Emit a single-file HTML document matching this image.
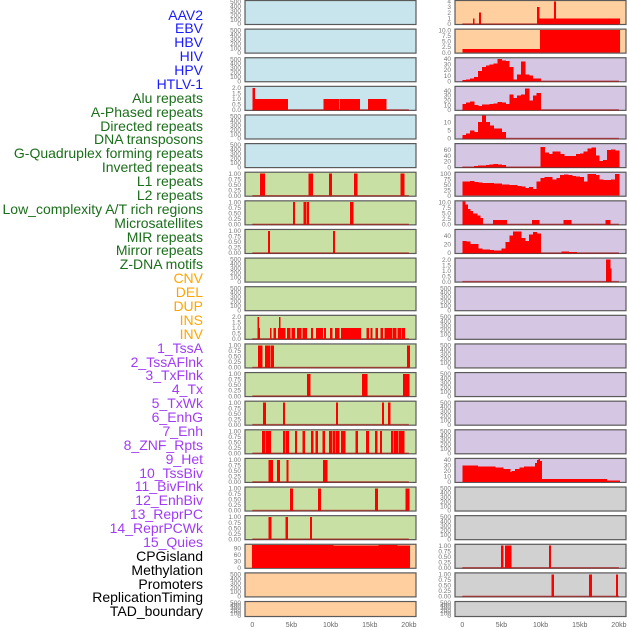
<!DOCTYPE html>
<html><head><meta charset="utf-8">
<style>
html,body{margin:0;padding:0;background:#fff;}
#wrap{position:relative;width:630px;height:630px;overflow:hidden;font-family:"Liberation Sans",sans-serif;}
.lab{position:absolute;right:427px;font-size:14px;line-height:14px;white-space:nowrap;}
svg text{font-family:"Liberation Sans",sans-serif;}
</style></head>
<body>
<div id="wrap">
<div id="labels"></div>
<svg id="chart" width="630" height="630"></svg>
</div>
<script>
// ---------- labels ----------
const trackLabels = ["AAV2","EBV","HBV","HIV","HPV","HTLV-1","Alu repeats","A-Phased repeats","Directed repeats","DNA transposons","G-Quadruplex forming repeats","Inverted repeats","L1 repeats","L2 repeats","Low_complexity A/T rich regions","Microsatellites","MIR repeats","Mirror repeats","Z-DNA motifs","CNV","DEL","DUP","INS","INV","1_TssA","2_TssAFlnk","3_TxFlnk","4_Tx","5_TxWk","6_EnhG","7_Enh","8_ZNF_Rpts","9_Het","10_TssBiv","11_BivFlnk","12_EnhBiv","13_ReprPC","14_ReprPCWk","15_Quies","CPGisland","Methylation","Promoters","ReplicationTiming","TAD_boundary"];
const labelGroups = [6,13,5,15,5];
const xTickValues = [0,5,10,15,20];
const xTickLabels = ["0","5kb","10kb","15kb","20kb"];

// ---------- data (segments: [startKb, endKb, value]; bins: 0.5kb each from 0) ----------
const leftAluSegs = [[0,0.3,2],[0.3,4.5,1],[9.1,11.1,1],[11.2,13.7,1],[14.8,17.1,1]];
const leftRow6Segs = [[1.0,1.6,1],[7.2,7.7,1],[9.8,10.1,1],[13.0,13.4,1],[18.9,19.4,1]];
const leftRow7Segs = [[5.2,5.4,1],[6.55,6.85,1],[7.0,7.2,1],[12.5,12.85,1]];
const leftRow8Segs = [[2.0,2.2,1],[10.3,10.5,1]];
const leftRow11Segs = [[0.64,0.81,2],[0.81,0.94,1],[2.26,2.43,1],[2.68,2.98,1],[3.28,3.4,1],[3.4,3.57,2],[3.57,4.17,1],[4.43,4.81,1],[4.98,5.40,1],[5.70,6.21,1],[6.38,6.94,1],[7.49,7.70,1],[8.13,8.98,1],[9.15,9.36,1],[9.91,10.17,1],[10.55,11.06,1],[11.36,13.83,1],[14.6,14.85,1],[15.1,15.32,1],[15.74,16.0,1],[16.38,16.64,1],[16.9,17.79,1],[17.91,18.34,1],[18.55,19.02,1],[19.15,19.45,1]];
const leftRow12Segs = [[0.72,1.23,1],[1.6,2.26,1],[2.38,2.72,1],[19.74,20.09,1]];
const leftRow13Segs = [[6.98,7.36,1],[14.0,14.64,1],[19.23,20.0,1]];
const leftRow14Segs = [[1.36,1.7,1],[3.91,4.13,1],[10.68,10.89,1],[16.55,16.77,1],[17.32,17.57,1]];
const leftRow15Segs = [[1.23,1.66,1],[1.74,2.34,1],[3.9,4.2,1],[4.3,4.64,1],[5.45,5.66,1],[6.38,6.68,1],[7.49,7.74,1],[8.09,8.34,1],[8.94,9.23,1],[9.79,10.17,1],[10.3,10.5,1],[10.6,11.06,1],[11.3,11.83,1],[13.15,13.45,1],[14.5,14.85,1],[15.66,15.91,1],[16.3,16.51,1],[17.7,17.96,1],[18.09,18.6,1],[18.72,18.98,1],[19.06,19.36,1]];
const leftRow16Segs = [[2.09,2.6,1],[3.15,3.49,1],[4.34,4.6,1],[9.02,9.53,1]];
const leftRow17Segs = [[4.8,5.15,1],[8.38,8.72,1],[15.66,16.0,1],[19.57,20.0,1]];
const leftRow18Segs = [[2.09,2.38,1],[4.26,4.51,1],[7.36,7.57,1]];
const leftMethylSegs = [[-0.05,10.3,105],[10.3,16.1,102],[16.1,18.5,105],[18.5,20.1,102]];

const rightRow0Segs = [[1.36,1.53,1],[2.13,2.34,2],[9.53,9.79,3],[9.79,11.7,1],[11.7,11.9,4],[11.9,20.08,1]];
const rightRow1Segs = [[0,9.9,1.5],[9.9,20.08,10]];
const rightRow2Bins = [2,3,5,8,18,25,28,30,32,40,37,36,25,3,12,35,12,10,5,5];
const rightRow3Bins = [12,15,17,10,8,11,11,12,13,16,15,12,32,25,30,32,45,20,30,35];
const rightRow4Bins = [2,3,5,4,10,14,10,8,6,6,4];
const rightRow5Bins = [0,0,0,3,5,5,8,9,10,9,7,0,0,0,0,0,0,0,0,0,70,50,45,55,55,45,38,38,38,45,48,55,65,68,40,22,25,60,62,58];
const rightRow6Bins = [65,65,68,62,60,58,58,58,55,55,52,52,50,48,45,42,35,40,30,65,80,85,85,75,80,95,97,95,90,88,85,65,100,100,95,75,72,72,75,100];
const rightRow7Segs = [[0,0.35,11],[0.35,0.7,9],[0.7,1.0,7],[1.0,1.3,6],[1.3,1.9,5],[1.9,2.3,4],[2.3,2.6,3],[3.9,5.66,2],[8.9,9.8,2],[12.9,13.9,2],[18.3,18.85,2]];
const rightRow8Bins = [28,26,21,21,10,8,8,7,6,6,10,25,40,50,50,35,28,42,48,45];
const rightRow8Extra = [[12.7,13.6,3],[13.6,14.6,2]];
const rightRow9Segs = [[18.35,18.85,2],[18.85,19.0,1.2]];
const rightRow16Segs = [[0,1.96,30],[1.96,4.17,28],[4.17,5.23,26],[5.23,6.09,24],[6.09,6.3,18],[6.3,6.7,20],[6.7,7.3,24],[7.3,7.9,26],[7.9,9.3,28],[9.3,9.55,35],[9.55,9.7,40],[9.7,9.9,42],[9.9,10.1,38],[10.1,18.4,5],[18.4,20.1,3]];
const rightRow19Segs = [[4.94,5.19,1],[5.45,5.7,1],[5.79,6.21,1],[11.06,11.28,1]];
const rightRow20Segs = [[11.4,11.66,1],[16.17,16.5,1],[19.6,19.83,1]];

// tick sets
const ticksEmpty = [0,100,200,300,400,500];
const ticksUnit = [0,0.25,0.5,0.75,1];
const ticksTwo = [0,0.5,1,1.5,2];

// ---------- layout ----------
const NS="http://www.w3.org/2000/svg";
const svg=document.getElementById('chart');
const BG={blue:"#c8e4ec",green:"#c9e0a5",orange:"#ffcf9f",purple:"#d5c6e3",grey:"#d1d1d1"};
const colX=[{left:245,right:416,x0:252.3},{left:455,right:626,x0:462.3}];
const PXKB=7.83;
function xScale(kb,col){return colX[col].x0+kb*PXKB;}
function rowTop(r){return 28.62*r;}
function rowH(r){return r===21?16:25;}
function yScale(v,r,ymax){const t=rowTop(r),h=rowH(r);return t+h-1-(v/ymax)*(h-2);}
function binsToSegs(b){return b.map((v,i)=>[i*0.5,(i+1)*0.5,v]);}
function mk(tag,attrs){const e=document.createElementNS(NS,tag);for(const k in attrs)e.setAttribute(k,attrs[k]);return e;}
function fmt(v,d){return d===0?String(v):v.toFixed(d);}

const panels=[];
function P(col,row,bg,name,ticks,dec,ymax,segs,base){panels.push({col,row,bg,name,ticks,dec,ymax,segs,base});}
// left column
P(0,0,"blue","aav2",ticksEmpty,0,520,null,false);
P(0,1,"blue","ebv",ticksEmpty,0,520,null,false);
P(0,2,"blue","hbv",ticksEmpty,0,520,null,false);
P(0,3,"blue","hiv-left",ticksTwo,1,2.1,leftAluSegs,true);
P(0,4,"blue","hpv",ticksEmpty,0,520,null,false);
P(0,5,"blue","htlv1",ticksEmpty,0,520,null,false);
P(0,6,"green","row6",ticksUnit,2,1.04,leftRow6Segs,true);
P(0,7,"green","row7",ticksUnit,2,1.04,leftRow7Segs,true);
P(0,8,"green","row8",ticksUnit,2,1.04,leftRow8Segs,true);
P(0,9,"green","row9",ticksEmpty,0,520,null,false);
P(0,10,"green","row10",ticksEmpty,0,520,null,false);
P(0,11,"green","row11",ticksTwo,1,2.1,leftRow11Segs,true);
P(0,12,"green","row12",ticksUnit,2,1.04,leftRow12Segs,true);
P(0,13,"green","row13",ticksUnit,2,1.04,leftRow13Segs,true);
P(0,14,"green","row14",ticksUnit,2,1.04,leftRow14Segs,true);
P(0,15,"green","row15",ticksUnit,2,1.04,leftRow15Segs,true);
P(0,16,"green","row16",ticksUnit,2,1.04,leftRow16Segs,true);
P(0,17,"green","row17",ticksUnit,2,1.04,leftRow17Segs,true);
P(0,18,"green","row18",ticksUnit,2,1.04,leftRow18Segs,true);
P(0,19,"orange","methylation",[0,30,60,90],0,105,leftMethylSegs,false);
P(0,20,"orange","row20",ticksEmpty,0,520,null,false);
P(0,21,"orange","row21",ticksEmpty,0,520,null,false);
// right column
P(1,0,"orange","r0",[0,1,2,3,4],0,4.05,rightRow0Segs,true);
P(1,1,"orange","r1",[0,2.5,5,7.5,10],1,10.2,rightRow1Segs,false);
P(1,2,"purple","r2",[0,10,20,30,40],0,41,binsToSegs(rightRow2Bins),true);
P(1,3,"purple","r3",[0,10,20,30,40],0,48,binsToSegs(rightRow3Bins),true);
P(1,4,"purple","r4",[0,5,10],0,14,binsToSegs(rightRow4Bins),true);
P(1,5,"purple","r5",[0,20,40,60],0,80,binsToSegs(rightRow5Bins),true);
P(1,6,"purple","r6",[0,25,50,75,100],0,105,binsToSegs(rightRow6Bins),false);
P(1,7,"purple","r7",[0,2.5,5,7.5,10],1,10.5,rightRow7Segs,true);
P(1,8,"purple","r8",[0,20,40],0,53,binsToSegs(rightRow8Bins).concat(rightRow8Extra),true);
P(1,9,"purple","r9",ticksTwo,1,2.1,rightRow9Segs,true);
for(let r=10;r<=15;r++)P(1,r,"purple","r"+r,ticksEmpty,0,520,null,false);
P(1,16,"purple","r16",[0,10,20,30,40],0,42,rightRow16Segs,false);
P(1,17,"grey","r17",ticksEmpty,0,520,null,false);
P(1,18,"grey","r18",ticksEmpty,0,520,null,false);
P(1,19,"grey","r19",ticksUnit,2,1.04,rightRow19Segs,true);
P(1,20,"grey","r20",ticksUnit,2,1.04,rightRow20Segs,true);
P(1,21,"grey","r21",ticksEmpty,0,520,null,false);

panels.forEach(p=>{
  const c=colX[p.col],t=rowTop(p.row),h=rowH(p.row);
  const g=mk('g',{});
  
  
  const bg=mk('rect',{x:c.left,y:t+0.5,width:c.right-c.left,height:h-1,fill:BG[p.bg],stroke:"#5a5a5a","stroke-width":1.2});
  
  
  g.appendChild(bg);
  if(p.base){
    const bl=mk('line',{x1:xScale(0,p.col),x2:xScale(20,p.col),y1:yScale(0,p.row,p.ymax),y2:yScale(0,p.row,p.ymax),stroke:"rgba(170,0,0,0.55)","stroke-width":1.5});
    
    
    g.appendChild(bl);
  }
  if(p.segs){
    p.segs.forEach(s=>{
      if(s[2]<=0)return;
      const x1=xScale(s[0],p.col),x2=xScale(s[1],p.col);
      const v=Math.min(s[2],p.ymax);
      const y=yScale(v,p.row,p.ymax),y0=yScale(0,p.row,p.ymax);
      const b=mk('rect',{x:x1,y:Math.max(y,t+1),width:Math.max(x2-x1+0.4,1),height:y0-Math.max(y,t+1),fill:"#ff0000","shape-rendering":"crispEdges"});
      
      
      g.appendChild(b);
    });
  }
  p.ticks.forEach(v=>{
    const yy=yScale(v,p.row,p.ymax);
    const tx=mk('text',{x:c.left-4,y:yy+2.2,"text-anchor":"end","font-size":"6.5",fill:"#777"});
    tx.textContent=fmt(v,p.dec);
    
    
    g.appendChild(tx);
  });
  svg.appendChild(g);
});

// x-axis
[0,1].forEach(col=>{
  xTickValues.forEach((v,i)=>{
    const tx=mk('text',{x:xScale(v,col),y:627,"text-anchor":"middle","font-size":"7",fill:"#666"});
    tx.textContent=xTickLabels[i];
    
    
    svg.appendChild(tx);
  });
});

// labels
const groupColors=["#1a1aff","#1b6e1b","#ffa500","#a03cf5","#000000"];
const labDiv=document.getElementById('labels');
let gi=0,cnt=0;
trackLabels.forEach((s,i)=>{
  while(cnt>=labelGroups[gi]){gi++;cnt=0;}
  cnt++;
  const d=document.createElement('div');
  d.className='lab';
  d.style.top=(15+13.88*i-7.5)+'px';
  d.style.color=groupColors[gi];
  d.textContent=s;
  
  
  labDiv.appendChild(d);
});
</script>
</body></html>
